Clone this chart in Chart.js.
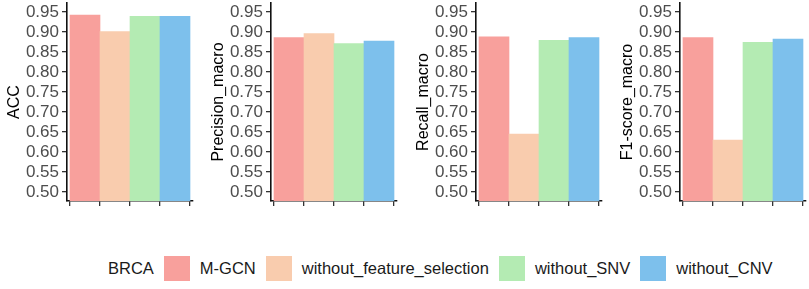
<!DOCTYPE html>
<html><head><meta charset="utf-8">
<script src="https://cdn.jsdelivr.net/npm/chart.js@4"></script>
<style>
body{margin:0;width:809px;height:289px;background:#fff;position:relative;overflow:hidden;font-family:"Liberation Sans",Arial,sans-serif;}
canvas{position:absolute;top:0;}
#legend{position:absolute;left:108px;top:256px;display:flex;align-items:center;gap:10px;font-size:16.5px;color:#1a1a1a;height:25px;white-space:nowrap}
.sw{width:26px;height:25px;display:inline-block}
</style></head><body>
<canvas id="c0" width="196" height="222" style="left:0px"></canvas>
<canvas id="c1" width="196" height="222" style="left:204px"></canvas>
<canvas id="c2" width="196" height="222" style="left:409px"></canvas>
<canvas id="c3" width="196" height="222" style="left:613px"></canvas>
<div id="legend"></div>
<script>
const legendTitle = "BRCA";
const models = ["M-GCN", "without_feature_selection", "without_SNV", "without_CNV"];
const modelColors = ["#F8A09C", "#F9CCAE", "#B4EBB3", "#7DC0EC"];
const metricNames = ["ACC", "Precision_macro", "Recall_macro", "F1-score_macro"];
const accValues = [0.942, 0.901, 0.939, 0.939];
const precisionValues = [0.886, 0.896, 0.871, 0.877];
const recallValues = [0.888, 0.645, 0.879, 0.886];
const f1Values = [0.886, 0.630, 0.874, 0.882];
const yTicks = [0.50, 0.55, 0.60, 0.65, 0.70, 0.75, 0.80, 0.85, 0.90, 0.95];
const yMin = 0.4775, yMax = 0.9725;

const allValues = [accValues, precisionValues, recallValues, f1Values];

function makeChart(id, title, values) {
  new Chart(document.getElementById(id), {
    type: 'bar',
    data: {
      datasets: [{
        data: values.map((v, i) => ({x: i + 1, y: v})),
        backgroundColor: modelColors,
        borderWidth: 0,
        barPercentage: 1,
        categoryPercentage: 1
      }]
    },
    options: {
      responsive: false,
      animation: false,
      events: [],
      layout: {padding: {top: 3, right: 3, left: 0, bottom: 0}},
      plugins: {legend: {display: false}, tooltip: {enabled: false}},
      scales: {
        x: {
          type: 'linear',
          min: 0.4, max: 4.6,
          offset: false,
          afterBuildTicks: s => { s.ticks = models.map((m, i) => ({value: i + 1})); },
          afterFit: s => { s.height = 21; s.paddingLeft = 0; s.paddingRight = 0; },
          ticks: {display: false, autoSkip: false},
          grid: {display: true, drawOnChartArea: false, drawTicks: true, tickLength: 5, color: '#333', lineWidth: 1.3},
          border: {display: true, color: '#111', width: 1.6}
        },
        y: {
          type: 'linear',
          min: yMin, max: yMax,
          afterBuildTicks: s => { s.ticks = yTicks.map(v => ({value: v})); },
          afterFit: s => { s.width = 67; s.paddingTop = 0; s.paddingBottom = 0; },
          ticks: {
            autoSkip: false,
            callback: v => Number(v).toFixed(2),
            color: '#4D4D4D',
            font: {family: 'Liberation Sans', size: 17},
            padding: 3
          },
          grid: {display: true, drawOnChartArea: false, drawTicks: true, tickLength: 5, color: '#333', lineWidth: 1.3},
          border: {display: true, color: '#111', width: 1.6},
          title: {display: true, text: title, color: '#000', font: {family: 'Liberation Sans', size: 16}, padding: {top: 5, bottom: 0}}
        }
      }
    }
  });
}

metricNames.forEach((m, i) => makeChart('c' + i, m, allValues[i]));

const lg = document.getElementById('legend');
const t = document.createElement('span');
t.textContent = legendTitle;
lg.appendChild(t);
models.forEach((m, i) => {
  const sw = document.createElement('span');
  sw.className = 'sw';
  sw.style.background = modelColors[i];
  lg.appendChild(sw);
  const tx = document.createElement('span');
  tx.textContent = m;
  lg.appendChild(tx);
});
</script>
</body></html>
